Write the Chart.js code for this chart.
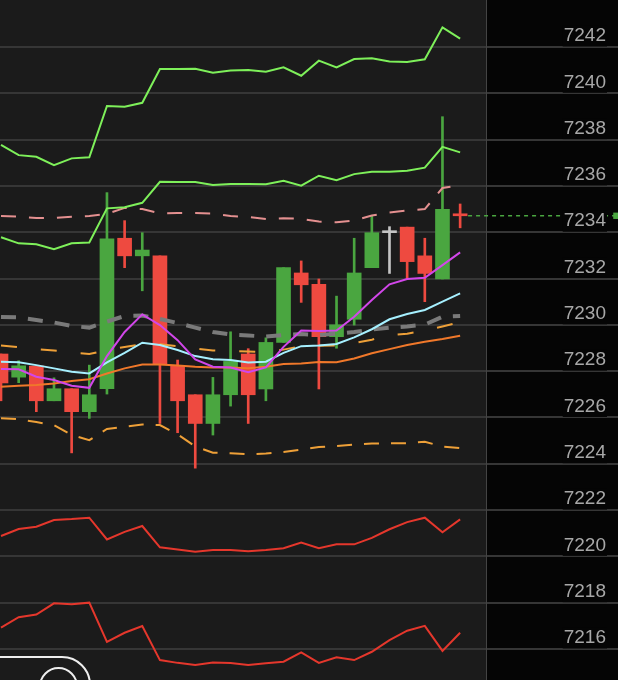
<!DOCTYPE html>
<html><head><meta charset="utf-8">
<script src="https://cdn.jsdelivr.net/npm/chart.js@4.4.1/dist/chart.umd.min.js"></script>
<style>html,body{margin:0;padding:0;background:#050505;overflow:hidden}#wrap{width:618px;height:680px;position:relative}</style>
</head><body><div id="wrap"><canvas id="c"></canvas></div>
<script>
// candle data (index 0..26)
const openP  = [7228.74,7227.74,7228.22,7226.72,7227.24,7226.25,7227.24,7233.74,7232.98,7232.98,7228.22,7226.98,7225.74,7226.98,7228.74,7227.23,7229.24,7232.24,7231.75,7229.49,7230.24,7232.47,7233.98,7234.22,7232.98,7231.98,7234.71];
const highP  = [7228.74,7228.45,7228.22,7227.71,7227.24,7228.26,7235.71,7234.50,7233.98,7232.98,7228.48,7226.98,7227.73,7229.70,7228.97,7229.44,7232.47,7232.76,7231.98,7231.24,7233.74,7234.70,7234.24,7234.22,7233.74,7238.99,7235.22];
const lowP   = [7226.72,7227.50,7226.25,7226.72,7224.47,7225.96,7227.01,7232.47,7231.47,7225.74,7225.34,7223.81,7225.24,7226.49,7225.74,7226.72,7229.24,7230.97,7227.23,7228.99,7229.99,7232.47,7232.22,7231.98,7231.00,7231.98,7234.19];
const closeP = [7227.49,7228.23,7226.72,7227.24,7226.25,7226.98,7233.72,7232.98,7233.23,7228.31,7226.72,7225.74,7226.98,7228.42,7226.98,7229.24,7232.47,7231.73,7229.49,7230.00,7232.24,7233.98,7233.98,7232.73,7232.22,7234.99,7234.71];

// indicator lines
const bandUp2   = [7237.77,7237.33,7237.26,7236.90,7237.19,7237.24,7239.45,7239.42,7239.59,7241.05,7241.05,7241.06,7240.89,7240.99,7241.01,7240.93,7241.12,7240.76,7241.41,7241.12,7241.48,7241.51,7241.37,7241.35,7241.47,7242.85,7242.36];
const bandUp1   = [7233.78,7233.52,7233.48,7233.27,7233.52,7233.56,7235.03,7235.08,7235.27,7236.18,7236.17,7236.17,7236.04,7236.08,7236.08,7236.07,7236.22,7236.01,7236.44,7236.25,7236.51,7236.61,7236.61,7236.66,7236.79,7237.69,7237.45];
const pinkDash  = [7234.70,7234.67,7234.61,7234.61,7234.67,7234.70,7234.79,7235.05,7235.00,7234.81,7234.83,7234.83,7234.81,7234.70,7234.66,7234.57,7234.60,7234.58,7234.46,7234.43,7234.51,7234.72,7234.85,7234.94,7235.00,7235.91,7236.04];
const greyDash  = [7230.34,7230.32,7230.21,7230.10,7229.95,7229.88,7230.14,7230.38,7230.40,7230.25,7230.08,7229.88,7229.69,7229.58,7229.54,7229.49,7229.56,7229.60,7229.56,7229.62,7229.69,7229.80,7229.88,7229.93,7230.01,7230.35,7230.38];
const orangeDashUp = [7229.11,7229.04,7228.95,7228.89,7228.80,7228.74,7228.91,7229.04,7229.17,7229.16,7229.08,7228.98,7228.89,7228.87,7228.85,7228.83,7228.93,7229.08,7229.10,7229.11,7229.21,7229.36,7229.56,7229.62,7229.75,7229.93,7230.12];
const orangeDashLo = [7225.97,7225.92,7225.80,7225.67,7225.24,7225.02,7225.50,7225.60,7225.70,7225.67,7225.27,7224.75,7224.48,7224.45,7224.41,7224.44,7224.51,7224.61,7224.72,7224.76,7224.83,7224.88,7224.88,7224.89,7224.95,7224.74,7224.68];
const ma5  = [7228.09,7228.08,7227.76,7227.62,7227.37,7227.28,7228.65,7229.69,7230.45,7229.99,7229.34,7228.51,7228.19,7228.16,7227.95,7228.16,7229.05,7229.75,7229.73,7229.75,7230.35,7231.07,7231.75,7231.98,7232.03,7232.58,7233.13];
const ma10 = [7228.41,7228.38,7228.26,7228.12,7227.97,7227.90,7228.38,7228.79,7229.23,7229.13,7228.91,7228.65,7228.51,7228.48,7228.37,7228.41,7228.79,7229.08,7229.11,7229.17,7229.46,7229.81,7230.24,7230.47,7230.64,7231.00,7231.36];
const ma20 = [7227.33,7227.37,7227.40,7227.47,7227.57,7227.65,7227.90,7228.12,7228.29,7228.29,7228.24,7228.19,7228.16,7228.16,7228.12,7228.19,7228.31,7228.33,7228.39,7228.38,7228.55,7228.77,7228.95,7229.13,7229.27,7229.39,7229.53];
const bandLo1 = [7220.88,7221.18,7221.28,7221.57,7221.61,7221.67,7220.73,7221.06,7221.31,7220.39,7220.30,7220.20,7220.27,7220.27,7220.22,7220.27,7220.35,7220.60,7220.35,7220.52,7220.52,7220.80,7221.17,7221.48,7221.67,7221.04,7221.60];
const bandLo2 = [7216.92,7217.37,7217.49,7217.97,7217.93,7218.00,7216.31,7216.70,7216.99,7215.52,7215.40,7215.31,7215.42,7215.39,7215.31,7215.38,7215.45,7215.85,7215.40,7215.64,7215.52,7215.88,7216.38,7216.79,7217.00,7215.92,7216.70];

// axis tick labels
const yTicks = [7242,7240,7238,7236,7234,7232,7230,7228,7226,7224,7222,7220,7218,7216];

const GREEN = '#4aa640', RED = '#ee4a40', GREY = '#c4c4c4';
const idx = openP.map((_, i) => i);
const candleColor = idx.map(i => {
  if (closeP[i] > openP[i]) return GREEN;
  if (closeP[i] < openP[i]) return RED;
  const prev = i > 0 ? closeP[i - 1] : openP[i];
  return closeP[i] < prev ? RED : (closeP[i] > prev ? GREEN : GREY);
});
const pts = arr => arr.map((v, i) => ({x: i, y: v}));
const lastClose = closeP[closeP.length - 1];

function lineDs(data, color, width, dash, order) {
  return {type: 'line', data: pts(data), borderColor: color, borderWidth: width,
    borderDash: dash || [], pointRadius: 0, tension: 0, fill: false, order: order};
}

const bgPlugin = {
  id: 'bg',
  beforeDraw(chart) {
    const c = chart.ctx;
    c.save();
    c.fillStyle = '#050505';
    c.fillRect(0, 0, chart.width, chart.height);
    c.fillStyle = '#1b1b1b';
    c.fillRect(0, 0, 486, chart.height);
    c.restore();
  },
  beforeDatasetsDraw(chart) {
    const c = chart.ctx;
    c.save();
    c.strokeStyle = '#444';
    c.lineWidth = 1;
    c.beginPath();
    c.moveTo(486.5, 0); c.lineTo(486.5, chart.height);
    c.stroke();
    c.restore();
  },
  afterDraw(chart) {
    const c = chart.ctx;
    c.save();
    c.strokeStyle = '#eeeeee';
    c.lineWidth = 2;
    c.beginPath();
    c.moveTo(0, 657);
    c.lineTo(62, 657);
    c.arcTo(90, 657, 90, 690, 28);
    c.lineTo(90, 690);
    c.stroke();
    c.beginPath();
    c.arc(58.5, 686.5, 18.5, 0, Math.PI * 2);
    c.stroke();
    c.restore();
  }
};

new Chart(document.getElementById('c'), {
  type: 'line',
  data: {
    datasets: [
      {type: 'bar', data: idx.map(i => ({x: i, y: [lowP[i], highP[i]]})), backgroundColor: candleColor,
        barThickness: 2, grouped: false, order: 30},
      {type: 'bar', data: idx.map(i => ({x: i, y: [openP[i], closeP[i]]})), backgroundColor: candleColor,
        barThickness: 14, minBarLength: 2, grouped: false, order: 29},
      lineDs(greyDash, '#7a7a7a', 4, [15, 12], 12),
      lineDs(orangeDashUp, '#eea038', 2, [16, 24], 11),
      lineDs(orangeDashLo, '#eea038', 2, [15, 12], 11),
      lineDs(pinkDash, '#e49090', 2, [15, 13], 11),
      lineDs(bandUp2, '#7ef05a', 2, null, 10),
      lineDs(bandUp1, '#7ef05a', 2, null, 10),
      lineDs(bandLo1, '#e5372c', 2, null, 10),
      lineDs(bandLo2, '#e5372c', 2, null, 10),
      lineDs(ma20, '#f0782a', 2, null, 9),
      lineDs(ma10, '#a6f0ff', 2, null, 8),
      lineDs(ma5, '#d246ea', 2, null, 7),
      {type: 'line', data: [{x: 26.45, y: lastClose}, {x: 34.85, y: lastClose}],
        borderColor: GREEN, borderWidth: 1.5, borderDash: [4, 4],
        pointRadius: [0, 4.5], pointStyle: 'rect', pointBackgroundColor: GREEN, pointBorderWidth: 0,
        tension: 0, order: 0}
    ]
  },
  options: {
    responsive: true,
    maintainAspectRatio: false,
    animation: false,
    events: [],
    layout: {padding: 0, autoPadding: false},
    plugins: {legend: {display: false}, tooltip: {enabled: false}},
    scales: {
      x: {type: 'linear', min: -0.057, max: 34.94, offset: false, display: false},
      y: {
        type: 'linear', position: 'right', min: 7214.66, max: 7244.03,
        afterBuildTicks: s => { s.ticks = yTicks.map(v => ({value: v})); },
        afterFit: s => { s.width = 0; s.paddingTop = 0; s.paddingBottom = 0; s.paddingLeft = 0; s.paddingRight = 0; },
        border: {display: false},
        grid: {color: '#363636', lineWidth: 2, drawTicks: false},
        ticks: {
          mirror: true, padding: -12, labelOffset: -11, z: 1,
          color: '#a8a8a8', font: {family: 'Liberation Sans', size: 19, lineHeight: 1},
          showLabelBackdrop: true, backdropColor: '#050505', backdropPadding: 1,
          callback: v => String(v)
        }
      }
    }
  },
  plugins: [bgPlugin]
});
</script>
</body></html>
